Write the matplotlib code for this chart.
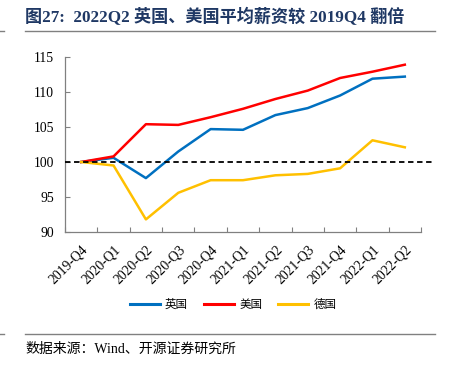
import matplotlib
matplotlib.use("Agg")
import matplotlib.pyplot as plt
from matplotlib.lines import Line2D

plt.rcParams['font.family'] = ['Liberation Serif', 'Noto Sans CJK SC']

quarters = ["2019-Q4", "2020-Q1", "2020-Q2", "2020-Q3", "2020-Q4", "2021-Q1",
            "2021-Q2", "2021-Q3", "2021-Q4", "2022-Q1", "2022-Q2"]
uk = [100, 100.6, 97.7, 101.5, 104.7, 104.6, 106.7, 107.7, 109.5, 111.9, 112.2]
us = [100, 100.8, 105.4, 105.3, 106.4, 107.6, 109.0, 110.2, 112.0, 112.9, 113.9]
de = [100, 99.5, 91.8, 95.6, 97.4, 97.4, 98.1, 98.3, 99.1, 103.1, 102.1]
series_names = ["英国", "美国", "德国"]
colors = ["#0070C0", "#FF0000", "#FFC000"]
yticks = [90, 95, 100, 105, 110, 115]

fig = plt.figure(figsize=(4.49, 3.77), dpi=100)
ax = fig.add_axes([65 / 449, 1 - 232 / 377, 356 / 449, 175 / 377])

x = list(range(len(quarters)))
for vals, c in zip([uk, us, de], colors):
    ax.plot(x, vals, color=c, lw=1.8, zorder=3)

# baseline at 100, runs a little past the axis end
ax.plot([0, 1.04], [100, 100], transform=ax.get_yaxis_transform(),
        color="black", ls=(0, (3, 2)), lw=1.3, clip_on=False, zorder=4)

ax.set_xlim(-0.5, len(quarters) - 0.5)
ax.set_ylim(90, 115)
ax.set_yticks(yticks)
ax.set_yticklabels([str(v) for v in yticks], fontsize=9.8)

ax.set_xticks([i - 0.5 for i in range(len(quarters) + 1)])
ax.set_xticklabels([])
ax.set_xticks(x, minor=True)
ax.set_xticklabels(quarters, minor=True, rotation=45, ha="right", va="top",
                   rotation_mode="anchor", fontsize=9.8)
ax.tick_params(axis="x", which="minor", length=0, pad=8)
ax.tick_params(axis="both", which="major", direction="in", length=3.5,
               color="#808080", width=0.8)
ax.tick_params(axis="y", pad=8)

for s in ["top", "right"]:
    ax.spines[s].set_visible(False)
for s in ["left", "bottom"]:
    ax.spines[s].set_color("#808080")
    ax.spines[s].set_linewidth(0.9)

handles = [Line2D([], [], color=c, lw=2.2) for c in colors]
fig.legend(handles, series_names, loc="center", bbox_to_anchor=(233 / 449, 1 - 305 / 377),
           ncol=3, frameon=False, fontsize=8.3, handlelength=2.6, columnspacing=1.4,
           handletextpad=0.45)

fig.text(25 / 449, 1 - 17 / 377, "图27:  2022Q2 英国、美国平均薪资较 2019Q4 翻倍",
         fontsize=12.3, fontweight="bold", color="#1F3864", va="center", ha="left")
fig.add_artist(Line2D([25 / 449, 435 / 449], [1 - 31 / 377] * 2, color="#808080", lw=1))
fig.add_artist(Line2D([0, 4 / 449], [1 - 31 / 377] * 2, color="#808080", lw=1))
fig.add_artist(Line2D([25 / 449, 435 / 449], [1 - 334 / 377] * 2, color="#808080", lw=1))
fig.add_artist(Line2D([0, 4 / 449], [1 - 334 / 377] * 2, color="#808080", lw=1))
fig.text(25 / 449, 1 - 349 / 377, "数据来源：Wind、开源证券研究所", fontsize=10,
         va="center", ha="left")

fig.savefig("out.png", dpi=100)
